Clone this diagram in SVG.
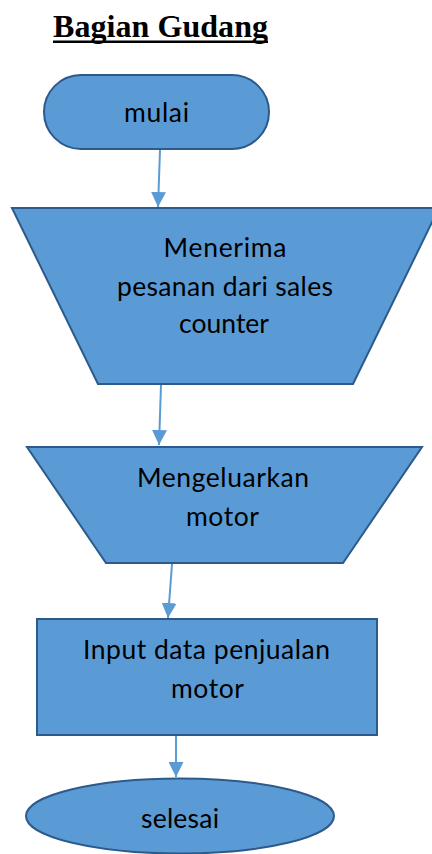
<svg xmlns="http://www.w3.org/2000/svg" width="432" height="854" viewBox="0 0 432 854">
<style>
.shape{fill:#5b9bd5;stroke:#2c5a8a;stroke-width:2}
.lbl{font-family:Lato,"Open Sans","Liberation Sans",sans-serif;font-size:26.5px;fill:#000;text-anchor:middle}
.conn{stroke:#5b9bd5;stroke-width:2;fill:none}
.title{font-family:"Liberation Serif","Times New Roman",serif;font-weight:bold;font-size:32px;fill:#000}
</style>
<defs>
<marker id="arr" viewBox="0 0 10 10" refX="10" refY="5" markerWidth="7.5" markerHeight="7.5" orient="auto" markerUnits="strokeWidth">
<path d="M0,0 L10,5 L0,10 z" fill="#5b9bd5"/>
</marker>
</defs>
<g id="title">
<text class="title" x="53" y="37" textLength="215">Bagian Gudang</text>
<line x1="53" y1="41.8" x2="268" y2="41.8" stroke="#000" stroke-width="2.6"/>
</g>
<g id="connectors">
<line class="conn" x1="160" y1="150" x2="158" y2="207" marker-end="url(#arr)"/>
<line class="conn" x1="161" y1="385" x2="159" y2="445" marker-end="url(#arr)"/>
<line class="conn" x1="172" y1="564" x2="168" y2="618" marker-end="url(#arr)"/>
<line class="conn" x1="176" y1="736" x2="176" y2="777" marker-end="url(#arr)"/>
</g>
<g id="mulai">
<rect class="shape" x="44" y="75" width="225" height="74" rx="37" ry="37"/>
<text class="lbl" x="156.5" y="122" textLength="65">mulai</text>
</g>
<g id="menerima">
<polygon class="shape" points="12,208 439,208 353,384 98,384"/>
<text class="lbl" x="225" y="257" textLength="123">Menerima</text>
<text class="lbl" x="225" y="296" textLength="216">pesanan dari sales</text>
<text class="lbl" x="224" y="333" textLength="90">counter</text>
</g>
<g id="mengeluarkan">
<polygon class="shape" points="27,447 422,447 343,563 106,563"/>
<text class="lbl" x="223" y="487" textLength="172">Mengeluarkan</text>
<text class="lbl" x="222.5" y="526" textLength="73">motor</text>
</g>
<g id="input">
<rect class="shape" x="37" y="619" width="340" height="116"/>
<text class="lbl" x="206.5" y="659" textLength="247">Input data penjualan</text>
<text class="lbl" x="207.5" y="698" textLength="73">motor</text>
</g>
<g id="selesai">
<ellipse class="shape" cx="180" cy="816" rx="154" ry="37.5"/>
<text class="lbl" x="180" y="828" textLength="78">selesai</text>
</g>
</svg>
